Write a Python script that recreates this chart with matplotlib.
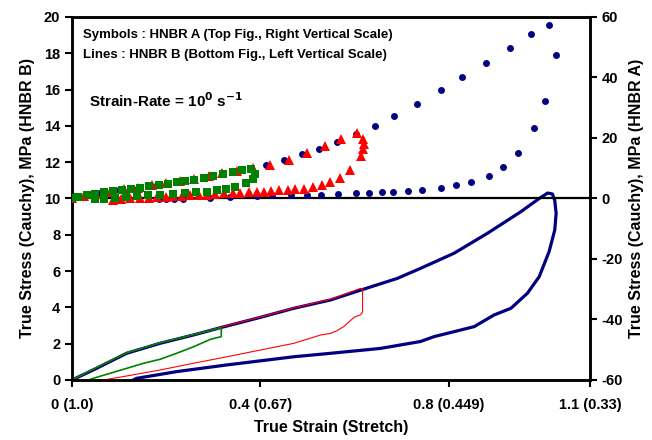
import matplotlib
matplotlib.use("Agg")
import matplotlib.pyplot as plt

plt.rcParams['font.family'] = ['Liberation Sans', 'DejaVu Sans']
plt.rcParams['font.weight'] = 'bold'
plt.rcParams['axes.unicode_minus'] = False

# ---- HNBR A (symbols, right scale) ----
blue_sym_x = [0.0, 0.03, 0.06, 0.10, 0.14, 0.18, 0.22, 0.26, 0.30, 0.34, 0.38, 0.413, 0.451, 0.489,
              0.525, 0.562, 0.604, 0.643, 0.683, 0.732, 0.783, 0.828, 0.879, 0.93, 0.975, 1.013,
              1.028, 1.004, 0.98, 0.947, 0.916, 0.886, 0.848, 0.815, 0.783, 0.743, 0.713, 0.682,
              0.658, 0.631, 0.603, 0.565, 0.529, 0.498, 0.464, 0.425, 0.393, 0.336, 0.294, 0.235,
              0.216, 0.2, 0.184]
blue_sym_y = [0.0, 1.0, 1.8, 2.7, 3.6, 4.6, 5.6, 6.6, 7.6, 8.7, 9.9, 11.2, 12.8, 14.6,
              16.5, 18.6, 21.4, 24.1, 27.4, 31.3, 35.8, 40.1, 44.8, 49.7, 54.3, 57.3,
              47.4, 32.3, 23.2, 15.0, 10.4, 7.5, 5.5, 4.4, 3.5, 2.9, 2.5, 2.2,
              2.1, 1.9, 1.7, 1.6, 1.3, 1.2, 1.2, 1.0, 0.8, 0.4, 0.1, -0.2,
              -0.3, -0.3, -0.3]

red_sym_x = [0.0, 0.025, 0.05, 0.08, 0.11, 0.14, 0.17, 0.2, 0.23, 0.26, 0.29, 0.318, 0.35, 0.385,
             0.421, 0.461, 0.499, 0.537, 0.572, 0.606,
             0.618, 0.62, 0.617, 0.613, 0.591, 0.569, 0.547, 0.53, 0.511, 0.492, 0.474, 0.459,
             0.439, 0.423, 0.407, 0.393, 0.375, 0.357, 0.342, 0.322, 0.304, 0.286, 0.269, 0.251,
             0.233, 0.215, 0.2, 0.18, 0.163, 0.145, 0.123, 0.105, 0.088]
red_sym_y = [0.0, 0.9, 1.6, 2.3, 3.0, 3.6, 4.3, 5.0, 5.7, 6.5, 7.3, 8.3, 9.1, 10.2,
             11.2, 12.6, 15.1, 17.2, 19.5, 21.8,
             19.5, 18.0, 16.5, 13.9, 9.5, 6.9, 5.3, 4.5, 3.7, 3.2, 3.0, 2.9,
             2.7, 2.5, 2.3, 2.1, 2.0, 1.9, 1.8, 1.7, 1.4, 1.3, 1.2, 1.0,
             0.9, 0.8, 0.6, 0.4, 0.3, 0.2, 0.0, -0.2, -0.4]

green_sym_x = [0.0, 0.013, 0.031, 0.049, 0.067, 0.088, 0.106, 0.126, 0.145, 0.164, 0.184, 0.203,
               0.223, 0.24, 0.26, 0.28, 0.3, 0.32, 0.342, 0.362, 0.381,
               0.388, 0.384, 0.37, 0.347, 0.327, 0.308, 0.286, 0.264, 0.241, 0.214, 0.187,
               0.162, 0.138, 0.114, 0.091, 0.068, 0.049]
green_sym_y = [0.0, 0.4, 1.0, 1.6, 2.1, 2.6, 2.9, 3.2, 3.5, 4.0, 4.3, 4.9,
               5.5, 5.8, 6.2, 6.8, 7.3, 8.0, 8.8, 9.3, 9.8,
               8.0, 6.4, 5.2, 3.8, 3.0, 2.7, 2.3, 2.0, 1.8, 1.6, 1.2,
               1.0, 0.8, 0.4, 0.1, -0.1, -0.2]

# ---- HNBR B (lines, left scale) ----
blue_line_x = [0.0, 0.045, 0.116, 0.187, 0.258, 0.315, 0.4, 0.471, 0.549, 0.62, 0.691, 0.740,
               0.811, 0.882, 0.953, 0.992, 1.01, 1.02, 1.025, 1.028, 1.025, 1.013, 0.992, 0.967,
               0.932, 0.896, 0.854, 0.811, 0.769, 0.740, 0.655, 0.549, 0.471, 0.329, 0.222,
               0.137, 0.13]
blue_line_y = [0.0, 0.55, 1.47, 2.02, 2.48, 2.88, 3.45, 3.95, 4.41, 5.01, 5.6, 6.15,
               6.98, 8.08, 9.27, 10.0, 10.3, 10.25, 9.9, 9.18, 8.26, 7.07, 5.69, 4.78,
               3.95, 3.58, 2.94, 2.66, 2.39, 2.12, 1.74, 1.47, 1.28, 0.83, 0.46,
               0.09, 0.0]

red_line_x = [0.0, 0.045, 0.116, 0.187, 0.258, 0.315, 0.4, 0.471, 0.549, 0.613,
              0.617, 0.617, 0.613, 0.599, 0.588, 0.577, 0.563, 0.549, 0.528, 0.471, 0.4,
              0.329, 0.258, 0.187, 0.116, 0.067]
red_line_y = [0.0, 0.6, 1.5, 2.05, 2.5, 2.9, 3.47, 3.97, 4.45, 5.05,
              4.95, 3.76, 3.6, 3.45, 3.2, 2.94, 2.72, 2.57, 2.48, 2.02, 1.65,
              1.28, 0.92, 0.55, 0.22, 0.0]

green_line_x = [0.0, 0.045, 0.116, 0.187, 0.258, 0.317, 0.317, 0.294, 0.258, 0.222, 0.187,
                0.152, 0.116, 0.081, 0.045, 0.035]
green_line_y = [0.0, 0.6, 1.5, 2.05, 2.5, 2.88, 2.39, 2.24, 1.83, 1.47, 1.14,
                0.92, 0.64, 0.37, 0.09, 0.0]

x_ticks = [0, 0.4, 0.8, 1.1]
x_ticklabels = ['0 (1.0)', '0.4 (0.67)', '0.8 (0.449)', '1.1 (0.33)']

navy = '#000080'
red = '#ff0000'
green = '#008000'

fig = plt.figure(figsize=(6.52, 4.4), dpi=100)
ax = fig.add_axes([0.1104, 0.1364, 0.905 - 0.1104, 0.9614 - 0.1364])
ax2 = ax.twinx()

ax.plot(blue_line_x, blue_line_y, color=navy, lw=2.3, zorder=3, solid_joinstyle='round')
ax.plot(red_line_x, red_line_y, color=red, lw=0.8, zorder=4)
ax.plot(green_line_x, green_line_y, color=green, lw=1.2, zorder=5)
ax.axhline(10, color='black', lw=1.6, zorder=6)

ax2.plot(blue_sym_x, blue_sym_y, 'o', color=navy, ms=5, mew=0, zorder=3)
ax2.plot(red_sym_x, red_sym_y, '^', color=red, ms=7, mew=0, zorder=4)
ax2.plot(green_sym_x, green_sym_y, 's', color=green, ms=5.5, mew=0, zorder=5)

ax.set_xlim(0, 1.1)
ax.set_ylim(0, 20)
ax2.set_ylim(-60, 60)
ax.set_xticks(x_ticks)
ax.set_xticklabels(x_ticklabels)
ax.set_yticks(range(0, 21, 2))
ax2.set_yticks(range(-60, 61, 20))

for a in (ax, ax2):
    for s in a.spines.values():
        s.set_linewidth(1.8)
    a.tick_params(direction='out', length=5, width=1.5, labelsize=10.5)
ax.tick_params(axis='x', pad=8)

ax.set_xlabel('True Strain (Stretch)', fontsize=11.5, fontweight='bold', labelpad=6)
ax.set_ylabel('True Stress (Cauchy), MPa (HNBR B)', fontsize=11.5, fontweight='bold', labelpad=6)
ax2.set_ylabel('True Stress (Cauchy), MPa (HNBR A)', fontsize=11.5, fontweight='bold', labelpad=4)

ax.text(0.021, 0.95, 'Symbols : HNBR A (Top Fig., Right Vertical Scale)', transform=ax.transAxes,
        fontsize=9.5, fontweight='bold', va='center', ha='left')
ax.text(0.021, 0.895, 'Lines : HNBR B (Bottom Fig., Left Vertical Scale)', transform=ax.transAxes,
        fontsize=9.5, fontweight='bold', va='center', ha='left')
ax.text(0.032, 0.77, r'Strain-Rate = 10$^{\mathbf{0}}$ s$^{\mathbf{-1}}$', transform=ax.transAxes,
        fontsize=11, fontweight='bold', va='center', ha='left')

fig.savefig('out.png', dpi=100)
